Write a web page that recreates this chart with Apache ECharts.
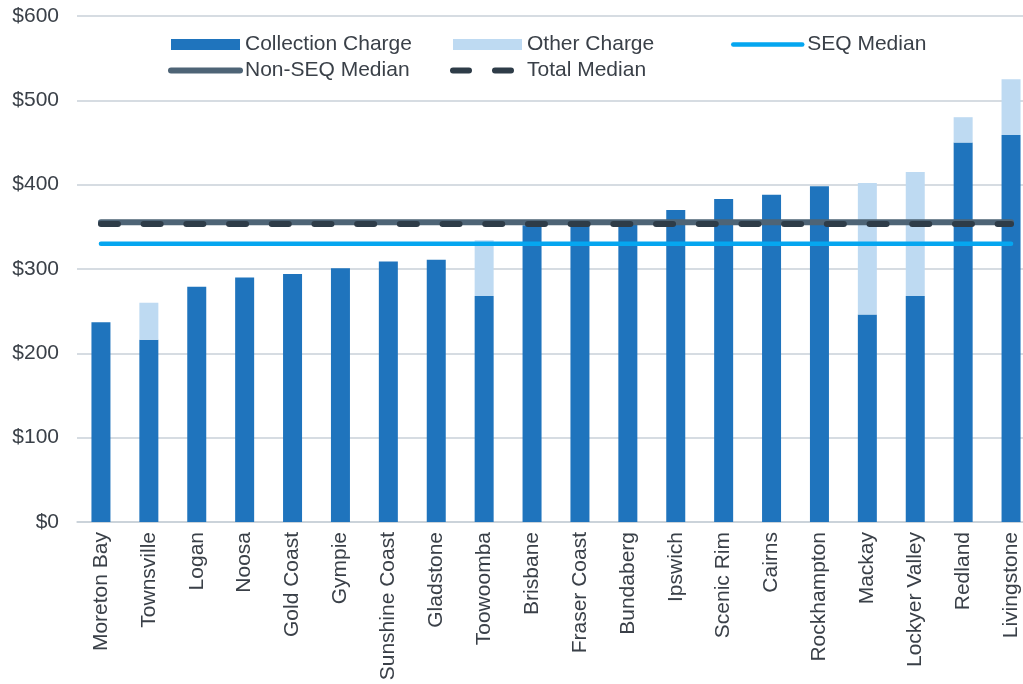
<!DOCTYPE html>
<html>
<head>
<meta charset="utf-8">
<script src="https://cdn.jsdelivr.net/npm/echarts@6/dist/echarts.min.js"></script>
<style>
  html, body { margin: 0; padding: 0; background: #fff; overflow: hidden; }
  /* plot area runs past the right edge of the window, as in the original */
  #chart { width: 1035px; height: 684px; }
</style>
</head>
<body>
<div id="chart"></div>
<script>
const councils = ['Moreton Bay', 'Townsville', 'Logan', 'Noosa', 'Gold Coast', 'Gympie',
  'Sunshine Coast', 'Gladstone', 'Toowoomba', 'Brisbane', 'Fraser Coast', 'Bundaberg',
  'Ipswich', 'Scenic Rim', 'Cairns', 'Rockhampton', 'Mackay', 'Lockyer Valley', 'Redland', 'Livingstone'];
const collectionCharge = [237, 216, 279, 290, 294, 301, 309, 311, 268, 352, 353, 354, 370, 383, 388, 398, 246, 268, 450, 459];
const otherCharge = [0, 44, 0, 0, 0, 0, 0, 0, 66, 0, 0, 0, 0, 0, 0, 0, 156, 147, 30, 66];
const seqMedianValue = 330;
const nonSeqMedianValue = 355.5;
const totalMedianValue = 353.5;
const yTicks = [0, 100, 200, 300, 400, 500, 600];

const textColor = '#3a4048';
const gridColor = '#c8d0d8';
const font = 'Liberation Sans, Arial, sans-serif';

const seqStyle = { color: '#05a6f0', width: 4.5, cap: 'round' };
const nonSeqStyle = { color: '#4e6476', width: 6, cap: 'round' };
const totalStyle = { color: '#2e3c48', width: 6, type: [17, 25.7], cap: 'round' };

function legendCol(left, items) {
    return {
        left: left, top: 29, orient: 'vertical', itemGap: 5,
        itemWidth: 69, itemHeight: 11,
        textStyle: { fontFamily: font, fontSize: 21, color: textColor },
        data: items
    };
}

let myChart;
function draw() {
    let option = {
        animation: false,
        grid: { left: 77, right: 0, top: 16, bottom: 162 },
        legend: [
            legendCol(163, [
                { name: 'Collection Charge', icon: 'rect' },
                { name: 'Non-SEQ Median', itemStyle: { opacity: 0 }, lineStyle: nonSeqStyle }
            ]),
            legendCol(445, [
                { name: 'Other Charge', icon: 'rect' },
                { name: 'Total Median', itemStyle: { opacity: 0 }, lineStyle: { color: '#2e3c48', width: 6, type: [16, 26], cap: 'round' } }
            ]),
            legendCol(726, [
                { name: 'SEQ Median', itemStyle: { opacity: 0 }, lineStyle: seqStyle }
            ])
        ],
        xAxis: {
            type: 'category',
            data: councils,
            axisLine: { lineStyle: { color: gridColor, width: 1.5 } },
            axisTick: { length: 6, lineStyle: { color: gridColor, width: 1.5 } },
            axisLabel: {
                rotate: 90, interval: 0, margin: 10,
                fontFamily: font, fontSize: 21, color: textColor
            }
        },
        yAxis: {
            type: 'value',
            min: yTicks[0],
            max: yTicks[yTicks.length - 1],
            interval: 100,
            axisLine: { show: false },
            axisTick: { show: false },
            splitLine: { lineStyle: { color: gridColor, width: 1.5 } },
            axisLabel: {
                margin: 18, fontFamily: font, fontSize: 21, color: textColor,
                formatter: function (v) { return '$' + v; }
            }
        },
        series: [
            {
                name: 'Collection Charge', type: 'bar', stack: 'charge',
                barWidth: 19, itemStyle: { color: '#1f74bd' },
                data: collectionCharge
            },
            {
                name: 'Other Charge', type: 'bar', stack: 'charge',
                barWidth: 19, itemStyle: { color: '#bedaf2' },
                data: otherCharge
            },
            {
                name: 'SEQ Median', type: 'line', symbol: 'none',
                itemStyle: { color: seqStyle.color },
                lineStyle: seqStyle,
                data: councils.map(() => seqMedianValue)
            },
            {
                name: 'Non-SEQ Median', type: 'line', symbol: 'none',
                itemStyle: { color: nonSeqStyle.color },
                lineStyle: nonSeqStyle,
                data: councils.map(() => nonSeqMedianValue)
            },
            {
                name: 'Total Median', type: 'line', symbol: 'none',
                itemStyle: { color: totalStyle.color },
                lineStyle: totalStyle,
                data: councils.map(() => totalMedianValue)
            }
        ]
    };

    myChart = echarts.init(document.getElementById('chart'));
    myChart.setOption(option);

    window.addEventListener('resize', function () {
        myChart.resize();
    }, false);
}

draw();
</script>
</body>
</html>
